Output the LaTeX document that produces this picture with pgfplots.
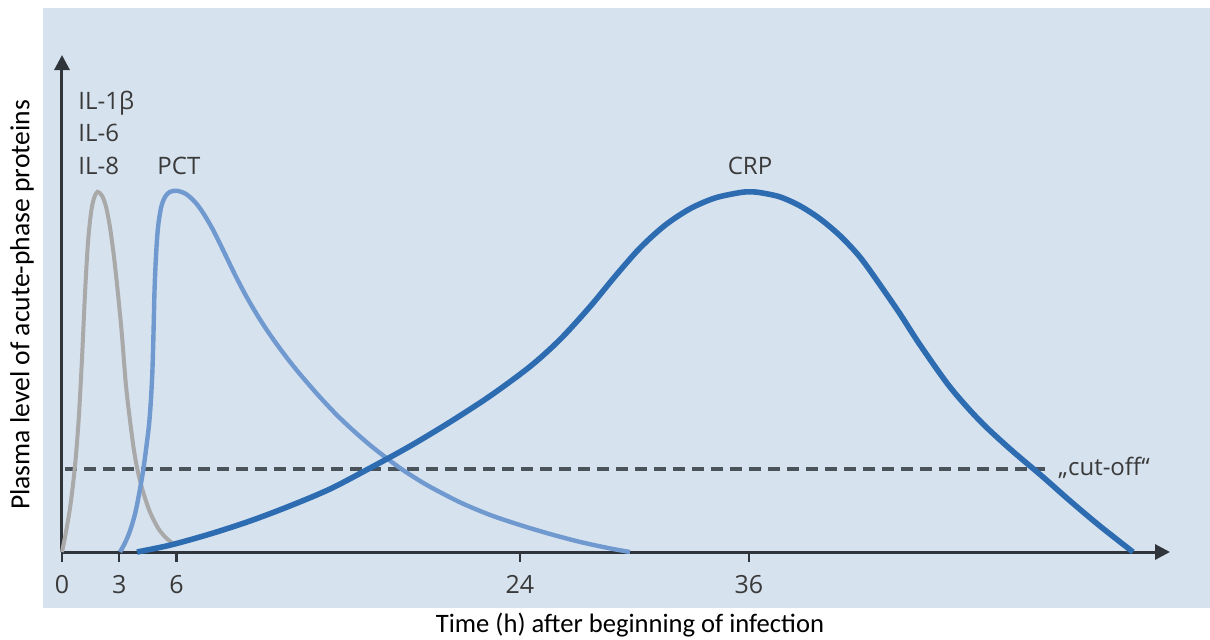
\documentclass[border=0pt]{standalone}
\usepackage{fontspec}
\setmainfont{Open Sans}
\newfontfamily\labfont{Carlito}
\usepackage{pgfplots}
\pgfplotsset{compat=1.18}
\usetikzlibrary{arrows.meta}
\definecolor{bgcol}{HTML}{D6E2EE}
\definecolor{axcol}{HTML}{2F353A}
\definecolor{ilcol}{HTML}{A9A9A9}
\definecolor{pctcol}{HTML}{6F99CF}
\definecolor{crpcol}{HTML}{2E6CB2}
\definecolor{dashcol}{HTML}{4A525A}
\definecolor{txtcol}{HTML}{3A3A3A}
\begin{document}
\begin{tikzpicture}
\useasboundingbox (-31pt,-43.5pt) rectangle (574pt,276pt);
\fill[bgcol] (-9.5pt,-28pt) rectangle (574pt,272pt);
\begin{axis}[
  at={(0pt,0pt)}, anchor=south west,
  scale only axis, width=554pt, height=248.5pt,
  xmin=0, xmax=58.07, ymin=0, ymax=138,
  axis x line=bottom, axis y line=left,
  axis line style={line width=1.5pt, axcol},
  x axis line style={-{Triangle[length=7.5pt,width=7.5pt]}},
  y axis line style={-{Triangle[length=7.5pt,width=7.5pt]}},
  xtick={0,3,6,24,36}, ytick=\empty,
  tick align=outside, major tick length=5pt,
  tick style={line width=1.2pt, axcol},
  xticklabel style={font=\fontsize{12.5}{14}\selectfont, text=txtcol, yshift=-3pt},
  /pgf/number format/assume math mode=true,
  clip=false,
]
% cut-off line
\addplot[dashcol, line width=2pt, dash pattern=on 6pt off 3.5pt] coordinates {(0.15,23) (51.5,23)};
% IL curve
\addplot[ilcol, line width=2pt, smooth, tension=0.5] coordinates {
(0,0) (0.21,5.6) (0.42,12.2) (0.58,18.9) (0.73,26.7) (0.89,38.1) (1.05,53.9)
(1.21,72.2) (1.36,85.8) (1.52,94.2) (1.68,98.3) (1.86,100) (2.10,98.9) (2.31,95.8)
(2.52,90.0) (2.73,81.7) (2.94,71.4) (3.14,60.3) (3.35,46.4) (3.56,36.7) (3.77,28.3)
(3.98,22.2) (4.25,16.7) (4.61,11.1) (5.03,6.7) (5.40,4.2) (5.77,2.5)};
% PCT curve
\addplot[pctcol, line width=2.2pt, smooth, tension=0.5] coordinates {
(3.04,0) (3.30,2.5) (3.56,5.8) (3.83,10.6) (4.04,16.1) (4.25,22.5) (4.40,28.3)
(4.56,35.3) (4.66,42.2) (4.74,50.6) (4.80,61.7) (4.85,72.8) (4.93,82.5) (5.03,90.0)
(5.19,95.6) (5.40,98.6) (5.66,100.0) (6.03,100.3) (6.50,99.4) (6.97,97.2) (7.39,94.2)
(7.86,90.0) (8.28,85.6) (8.70,81.0) (9.17,75.9) (9.70,70.6) (10.22,65.9) (10.74,61.6)
(11.27,57.6) (11.95,52.8) (12.63,48.4) (13.52,43.0) (14.41,38.0) (15.25,33.8)
(16.14,29.7) (16.93,26.4) (17.72,23.3) (18.50,20.6) (19.29,18.1) (20.86,13.8)
(22.43,10.3) (24.00,7.5) (25.58,5.0) (27.15,2.8) (28.72,1.0) (29.77,0)};
% CRP curve
\addplot[crpcol, line width=2.8pt, smooth, tension=0.5] coordinates {
(3.93,0) (5.66,1.9) (7.76,5.0) (9.85,8.6) (11.95,12.8) (14.05,17.5) (16.14,23.3)
(18.24,29.4) (20.34,36.1) (22.43,43.3) (24.53,51.5) (26.10,59.0) (27.67,68.1)
(28.98,76.5) (30.29,84.4) (31.60,90.7) (32.91,95.3) (34.22,98.3) (35.53,99.8)
(36.06,100.0) (36.58,99.8) (37.63,98.6) (38.68,96.1) (39.73,92.5) (40.78,87.8)
(41.82,81.9) (42.87,74.2) (43.92,66.1) (44.97,57.5) (46.54,45.8) (48.11,36.4)
(49.69,28.6) (51.42,20.8) (52.83,14.2) (54.40,7.2) (56.13,0)};
% labels
\node[anchor=base west, font=\fontsize{12}{14}\selectfont, text=txtcol, inner sep=0pt] at (axis cs:0.84,122.8) {IL-1β};
\node[anchor=base west, font=\fontsize{12}{14}\selectfont, text=txtcol, inner sep=0pt] at (axis cs:0.84,113.9) {IL-6};
\node[anchor=base west, font=\fontsize{12}{14}\selectfont, text=txtcol, inner sep=0pt] at (axis cs:0.84,104.7) {IL-8};
\node[anchor=base west, font=\fontsize{12}{14}\selectfont, text=txtcol, inner sep=0pt] at (axis cs:4.98,104.7) {PCT};
\node[anchor=base, font=\fontsize{12}{14}\selectfont, text=txtcol, inner sep=0pt] at (axis cs:36.06,104.7) {CRP};
\node[anchor=west, font=\fontsize{12}{14}\selectfont, text=txtcol, inner sep=0pt] at (axis cs:52.2,23.5) {„cut-off“};
\end{axis}
\node[font=\labfont\fontsize{13.3}{15}\selectfont] at (284pt,-36.5pt) {Time (h) after beginning of infection};
\node[font=\labfont\fontsize{13.8}{15}\selectfont, rotate=90] at (-20pt,123.5pt) {Plasma level of acute-phase proteins};
\end{tikzpicture}
\end{document}
